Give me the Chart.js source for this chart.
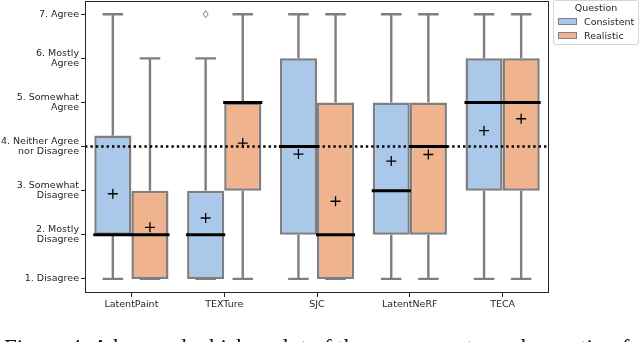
<!DOCTYPE html>
<html>
<head>
<meta charset="utf-8">
<script src="https://cdn.jsdelivr.net/npm/chart.js@4"></script>
<style>
  body { margin: 0; background: #fff; width: 640px; height: 342px; overflow: hidden; position: relative; font-family: "DejaVu Sans", sans-serif; }
  #wrap { position: absolute; left: 0; top: 0; width: 640px; height: 342px; }
  #legend { position: absolute; left: 553px; top: 0px; width: 86px; height: 45px; border: 1px solid #d6d6d6; border-radius: 3px; box-sizing: border-box; background: #fff; color: #262626; font-size: 9.5px; }
  #legend .title { position: absolute; left: 0; width: 100%; top: 1px; text-align: center; }
  #legend .patch { position: absolute; left: 4px; width: 17px; height: 5px; border: 1.5px solid #7f7f7f; }
  #legend .label { position: absolute; left: 30px; }
  #caption { position: absolute; left: 4px; top: 336px; font-family: "Liberation Serif", serif; font-size: 23px; line-height: 23px; white-space: nowrap; color: #111; }
</style>
</head>
<body>
<div id="wrap"><canvas id="chart" width="640" height="342"></canvas></div>
<div id="legend">
  <div class="title">Question</div>
  <div class="patch" style="top:17px; background:#a9c8ea;"></div><div class="label" style="top:15px;">Consistent</div>
  <div class="patch" style="top:31px; background:#efb48e;"></div><div class="label" style="top:29px;">Realistic</div>
</div>
<div id="caption">Figure 4: A box and whisker plot of the responses to each question for each method.</div>
<script>
var methods = ['LatentPaint', 'TEXTure', 'SJC', 'LatentNeRF', 'TECA'];
var yTickValues = [1, 2, 3, 4, 5, 6, 7];
var yTickLabels = [
    ['1. Disagree'],
    ['2. Mostly', 'Disagree'],
    ['3. Somewhat', 'Disagree'],
    ['4. Neither Agree', 'nor Disagree'],
    ['5. Somewhat', 'Agree'],
    ['6. Mostly', 'Agree'],
    ['7. Agree']
];

// Consistent
var consistentLow = [1, 1, 1, 1, 1];
var consistentQ1 = [2, 1, 2, 2, 3];
var consistentMedian = [2, 2, 4, 3, 5];
var consistentQ3 = [4.25, 3, 6, 5, 6];
var consistentHigh = [7, 6, 7, 7, 7];
var consistentMean = [2.93, 2.38, 3.83, 3.67, 4.36];
var consistentOutliers = [[], [7], [], [], []];

// Realistic
var realisticLow = [1, 1, 1, 1, 1];
var realisticQ1 = [1, 3, 1, 2, 3];
var realisticMedian = [2, 5, 2, 4, 5];
var realisticQ3 = [3, 5, 5, 5, 6];
var realisticHigh = [6, 7, 7, 7, 7];
var realisticMean = [2.17, 4.08, 2.76, 3.82, 4.63];
var realisticOutliers = [[], [], [], [], []];

var neutralLine = 4;

var stats = [
    { low: consistentLow, q1: consistentQ1, med: consistentMedian, q3: consistentQ3, high: consistentHigh, mean: consistentMean, out: consistentOutliers },
    { low: realisticLow, q1: realisticQ1, med: realisticMedian, q3: realisticQ3, high: realisticHigh, mean: realisticMean, out: realisticOutliers }
];

var grey = '#7f7f7f';
var ink = '#262626';

// whiskers, medians, means, outliers, the dotted line at "neither" and the frame
var boxExtras = {
    id: 'boxExtras',
    afterDatasetsDraw: function (chart) {
        var ctx = chart.ctx;
        var y = chart.scales.y;
        var area = chart.chartArea;
        ctx.save();
        stats.forEach(function (s, di) {
            var meta = chart.getDatasetMeta(di);
            meta.data.forEach(function (bar, i) {
                var cx = bar.x;
                var half = bar.width / 2;
                ctx.strokeStyle = grey;
                ctx.lineWidth = 2.4;
                ctx.lineCap = 'butt';
                ctx.beginPath();
                if (s.high[i] > s.q3[i]) {
                    ctx.moveTo(cx, y.getPixelForValue(s.q3[i]));
                    ctx.lineTo(cx, y.getPixelForValue(s.high[i]));
                }
                if (s.low[i] < s.q1[i]) {
                    ctx.moveTo(cx, y.getPixelForValue(s.q1[i]));
                    ctx.lineTo(cx, y.getPixelForValue(s.low[i]));
                }
                ctx.stroke();
                // caps
                ctx.beginPath();
                [s.high[i], s.low[i]].forEach(function (v) {
                    var py = y.getPixelForValue(v);
                    ctx.moveTo(cx - half / 2 - 1, py);
                    ctx.lineTo(cx + half / 2 + 1, py);
                });
                ctx.stroke();
                // median
                var my = y.getPixelForValue(s.med[i]);
                ctx.strokeStyle = '#000';
                ctx.lineWidth = 3;
                ctx.beginPath();
                ctx.moveTo(cx - half - 1, my);
                ctx.lineTo(cx + half + 1, my);
                ctx.stroke();
                // mean marker
                var ey = y.getPixelForValue(s.mean[i]);
                ctx.lineWidth = 1.3;
                ctx.beginPath();
                ctx.moveTo(cx - 5, ey);
                ctx.lineTo(cx + 5, ey);
                ctx.moveTo(cx, ey - 5);
                ctx.lineTo(cx, ey + 5);
                ctx.stroke();
                // outliers
                ctx.strokeStyle = grey;
                ctx.lineWidth = 1;
                s.out[i].forEach(function (v) {
                    var oy = y.getPixelForValue(v);
                    ctx.beginPath();
                    ctx.moveTo(cx, oy - 3.5);
                    ctx.lineTo(cx + 2.5, oy);
                    ctx.lineTo(cx, oy + 3.5);
                    ctx.lineTo(cx - 2.5, oy);
                    ctx.closePath();
                    ctx.stroke();
                });
            });
        });

        // dotted reference line
        var ry = y.getPixelForValue(neutralLine);
        ctx.strokeStyle = '#000';
        ctx.lineWidth = 2.4;
        ctx.setLineDash([2.4, 3]);
        ctx.beginPath();
        ctx.moveTo(area.left, ry);
        ctx.lineTo(area.right, ry);
        ctx.stroke();
        ctx.setLineDash([]);

        // axes frame
        ctx.strokeStyle = ink;
        ctx.lineWidth = 1;
        ctx.strokeRect(area.left + 0.5, area.top + 0.5, area.right - area.left - 1, area.bottom - area.top - 1);
        ctx.restore();
    }
};

function ranges(lo, hi) {
    return lo.map(function (v, i) { return [v, hi[i]]; });
}

new Chart(document.getElementById('chart'), {
    type: 'bar',
    data: {
        labels: methods,
        datasets: [{
            label: 'Consistent',
            data: ranges(consistentQ1, consistentQ3),
            backgroundColor: '#a9c8ea',
            borderColor: grey,
            borderWidth: 2.5,
            borderSkipped: false
        }, {
            label: 'Realistic',
            data: ranges(realisticQ1, realisticQ3),
            backgroundColor: '#efb48e',
            borderColor: grey,
            borderWidth: 2.5,
            borderSkipped: false
        }]
    },
    options: {
        responsive: false,
        devicePixelRatio: 1,
        animation: false,
        events: [],
        categoryPercentage: 0.8,
        barPercentage: 1.0,
        layout: { padding: { top: 1, right: 91, left: 0, bottom: 0 } },
        plugins: {
            legend: { display: false },
            tooltip: { enabled: false }
        },
        scales: {
            x: {
                offset: true,
                grid: { display: true, drawOnChartArea: false, drawTicks: true, tickLength: 4, color: ink, offset: false },
                border: { display: false },
                ticks: { color: ink, font: { family: 'DejaVu Sans', size: 9.5 }, padding: 2, maxRotation: 0 },
                afterFit: function (scale) {
                    scale.height = 49;
                    scale.paddingLeft = 0;
                    scale.paddingRight = 0;
                }
            },
            y: {
                min: 0.68,
                max: 7.3,
                afterBuildTicks: function (scale) {
                    scale.ticks = yTickValues.map(function (v) { return { value: v }; });
                },
                grid: { display: true, drawOnChartArea: false, drawTicks: true, tickLength: 4, color: ink },
                border: { display: false },
                ticks: {
                    color: ink,
                    padding: 2,
                    font: { family: 'DejaVu Sans', size: 9.5, lineHeight: 1.1 },
                    callback: function (value) {
                        return yTickLabels[yTickValues.indexOf(value)];
                    }
                },
                afterFit: function (scale) {
                    scale.width = 85;
                    scale.paddingTop = 0;
                    scale.paddingBottom = 0;
                }
            }
        }
    },
    plugins: [boxExtras]
});
</script>
</body>
</html>
